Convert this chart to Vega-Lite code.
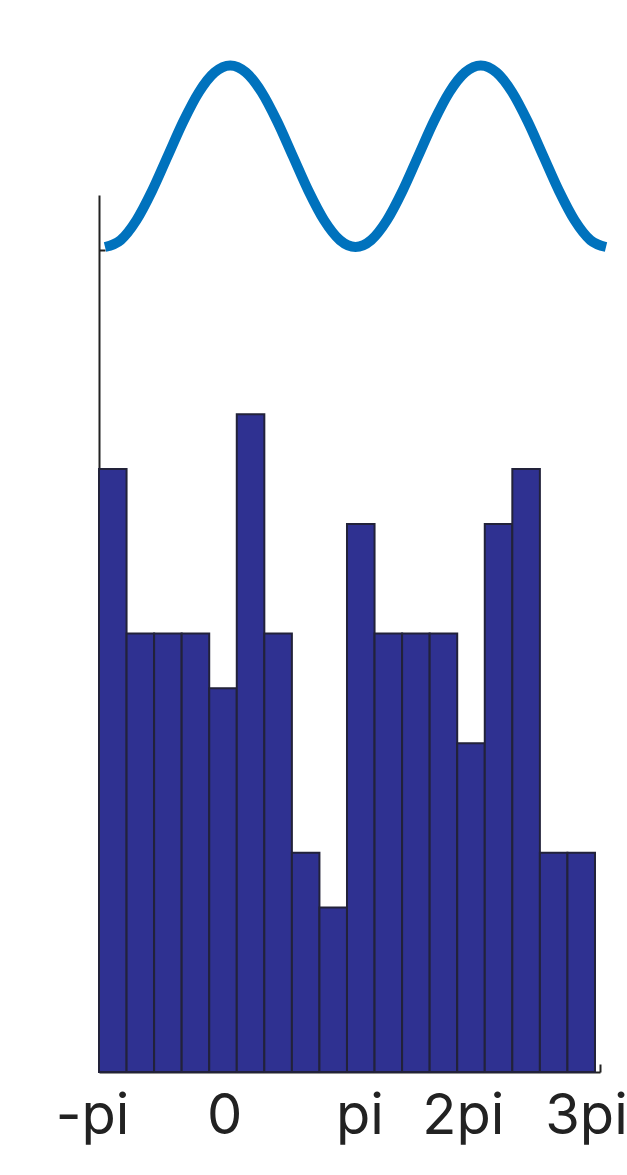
{
  "$schema": "https://vega.github.io/schema/vega-lite/v6.json",
  "width": 501,
  "height": 877,
  "autosize": {"type": "none"},
  "padding": {"left": 99, "top": 195, "right": 27, "bottom": 103},
  "background": "white",
  "config": {"view": {"stroke": null}},
  "datasets": {
    "bars": [
      {"bin_start": -1.00, "bin_end": -0.78, "count": 11},
      {"bin_start": -0.78, "bin_end": -0.56, "count": 8},
      {"bin_start": -0.56, "bin_end": -0.34, "count": 8},
      {"bin_start": -0.34, "bin_end": -0.12, "count": 8},
      {"bin_start": -0.12, "bin_end": 0.10, "count": 7},
      {"bin_start": 0.10, "bin_end": 0.32, "count": 12},
      {"bin_start": 0.32, "bin_end": 0.54, "count": 8},
      {"bin_start": 0.54, "bin_end": 0.76, "count": 4},
      {"bin_start": 0.76, "bin_end": 0.98, "count": 3},
      {"bin_start": 0.98, "bin_end": 1.20, "count": 10},
      {"bin_start": 1.20, "bin_end": 1.42, "count": 8},
      {"bin_start": 1.42, "bin_end": 1.64, "count": 8},
      {"bin_start": 1.64, "bin_end": 1.86, "count": 8},
      {"bin_start": 1.86, "bin_end": 2.08, "count": 6},
      {"bin_start": 2.08, "bin_end": 2.30, "count": 10},
      {"bin_start": 2.30, "bin_end": 2.52, "count": 11},
      {"bin_start": 2.52, "bin_end": 2.74, "count": 4},
      {"bin_start": 2.74, "bin_end": 2.96, "count": 4}
    ],
    "wave": [
      {"t": -0.952, "v": -1}, {"t": -0.827, "v": -0.924}, {"t": -0.702, "v": -0.707}, {"t": -0.577, "v": -0.383},
      {"t": -0.452, "v": 0}, {"t": -0.327, "v": 0.383}, {"t": -0.202, "v": 0.707}, {"t": -0.077, "v": 0.924},
      {"t": 0.048, "v": 1}, {"t": 0.173, "v": 0.924}, {"t": 0.298, "v": 0.707}, {"t": 0.423, "v": 0.383},
      {"t": 0.548, "v": 0}, {"t": 0.673, "v": -0.383}, {"t": 0.798, "v": -0.707}, {"t": 0.923, "v": -0.924},
      {"t": 1.048, "v": -1}, {"t": 1.173, "v": -0.924}, {"t": 1.298, "v": -0.707}, {"t": 1.423, "v": -0.383},
      {"t": 1.548, "v": 0}, {"t": 1.673, "v": 0.383}, {"t": 1.798, "v": 0.707}, {"t": 1.923, "v": 0.924},
      {"t": 2.048, "v": 1}, {"t": 2.173, "v": 0.924}, {"t": 2.298, "v": 0.707}, {"t": 2.423, "v": 0.383},
      {"t": 2.548, "v": 0}, {"t": 2.673, "v": -0.383}, {"t": 2.798, "v": -0.707}, {"t": 2.923, "v": -0.924},
      {"t": 3.048, "v": -1}
    ]
  },
  "layer": [
    {
      "data": {"name": "bars"},
      "mark": {"type": "bar", "fill": "#2f3191", "stroke": "#22223a", "strokeWidth": 2},
      "encoding": {
        "x": {
          "field": "bin_start",
          "type": "quantitative",
          "scale": {"domain": [-1, 3], "nice": false, "zero": false},
          "axis": {
            "title": null,
            "grid": false,
            "values": [-1, 0, 1, 2, 3],
            "labelExpr": "datum.value == -1 ? '-pi' : datum.value == 0 ? '0' : datum.value == 1 ? 'pi' : datum.value == 2 ? '2pi' : '3pi'",
            "labelFont": "Inter",
            "labelFontSize": 56,
            "labelColor": "#222222",
            "labelBaseline": "alphabetic",
            "labelPadding": 69,
            "labelFlush": false,
            "labelOverlap": false,
            "labelOffset": {
              "condition": [
                {"test": "datum.value == -1", "value": -7},
                {"test": "datum.value == 1", "value": 10},
                {"test": "datum.value == 2", "value": -12},
                {"test": "datum.value == 3", "value": -14}
              ],
              "value": 0
            },
            "domainColor": "#222222",
            "domainWidth": 2,
            "tickColor": "#222222",
            "tickWidth": 2,
            "tickSize": -8,
            "tickOpacity": {"condition": {"test": "datum.value == 3", "value": 1}, "value": 0}
          }
        },
        "x2": {"field": "bin_end"},
        "y": {
          "field": "count",
          "type": "quantitative",
          "scale": {"domain": [0, 16], "nice": false},
          "axis": {
            "title": null,
            "grid": false,
            "labels": false,
            "values": [15],
            "domainColor": "#222222",
            "domainWidth": 2,
            "tickColor": "#222222",
            "tickWidth": 2,
            "tickSize": -6
          }
        },
        "y2": {"datum": 0}
      }
    },
    {
      "data": {"name": "wave"},
      "mark": {"type": "line", "color": "#0072bd", "strokeWidth": 10, "strokeCap": "butt", "interpolate": "monotone"},
      "encoding": {
        "x": {"field": "t", "type": "quantitative", "scale": {"domain": [-1, 3], "nice": false, "zero": false}},
        "y": {
          "field": "v",
          "type": "quantitative",
          "scale": {"domain": [-10.091, -0.427], "nice": false, "zero": false},
          "axis": null
        }
      }
    }
  ],
  "resolve": {"scale": {"y": "independent"}}
}
